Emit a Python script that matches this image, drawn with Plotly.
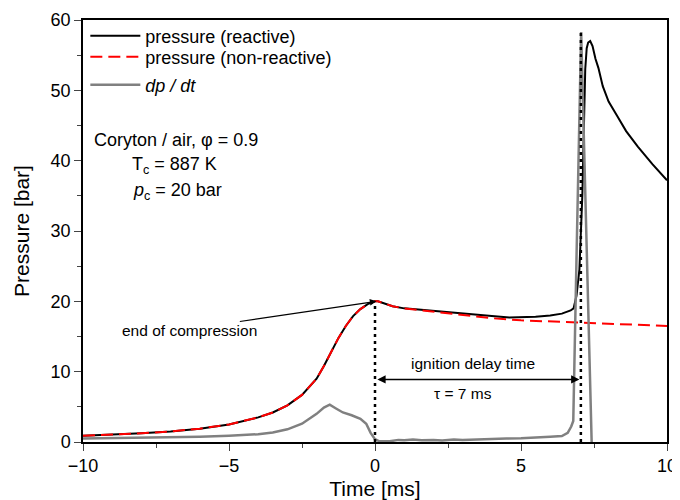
import plotly.graph_objs as go

# reactive pressure trace [ms, bar]
t_react = [-10, -9, -8, -7, -6, -5, -4.5, -4, -3.5, -3, -2.5, -2, -1.75, -1.5, -1.25, -1,
           -0.75, -0.5, -0.25, 0, 0.1, 0.25, 0.6, 1, 2, 3, 4, 4.6, 5.5, 6, 6.4, 6.7,
           6.8, 6.9, 7.0, 7.1, 7.15, 7.2, 7.25, 7.3, 7.37, 7.45, 7.55, 7.65, 7.8, 8.0, 8.3, 8.6,
           9.0, 9.5, 10]
p_react = [0.9, 1.05, 1.25, 1.5, 1.9, 2.5, 2.95, 3.5, 4.2, 5.2, 6.7, 9.0, 10.8, 12.8, 14.8, 16.5,
           17.9, 18.9, 19.6, 20.0, 20.0, 19.8, 19.3, 19.0, 18.6, 18.2, 17.9, 17.7, 17.8, 18.0, 18.25, 18.7,
           19.0, 20.8, 24.5, 35.0, 45.0, 53.0, 56.0, 56.8, 57.0, 56.3, 54.5, 53.2, 50.6, 48.4, 46.3, 44.2,
           42.0, 39.5, 37.2]

# non-reactive pressure trace
t_nonreact = [-10, -9, -8, -7, -6, -5, -4.5, -4, -3.5, -3, -2.5, -2, -1.75, -1.5, -1.25, -1,
              -0.75, -0.5, -0.25, 0, 0.1, 0.25, 0.6, 1, 2, 3, 4, 5, 6, 7, 8, 9, 10]
p_nonreact = [0.9, 1.05, 1.25, 1.5, 1.9, 2.5, 2.95, 3.5, 4.2, 5.2, 6.7, 9.0, 10.8, 12.8, 14.8, 16.5,
              17.9, 18.9, 19.6, 20.0, 20.0, 19.8, 19.3, 19.0, 18.55, 18.05, 17.6, 17.3, 17.15, 17.0, 16.85, 16.7, 16.5]

# pressure rise rate dp/dt
t_dpdt = [-10, -9, -8, -7, -6, -5, -4, -3.5, -3, -2.5, -2, -1.75, -1.55, -1.35, -1.1, -0.8,
          -0.5, -0.3, -0.15, 0, 0.15, 0.5, 0.8, 1.0, 1.3, 1.6, 2.0, 2.3, 2.7, 3.0, 3.5, 4.0,
          4.5, 5.0, 5.5, 6.0, 6.4, 6.6, 6.72, 6.79, 6.9, 7.0, 7.06, 7.15, 7.25, 7.35, 7.42]
p_dpdt = [0.5, 0.55, 0.6, 0.65, 0.75, 0.9, 1.1, 1.35, 1.8, 2.6, 4.0, 4.9, 5.3, 4.8, 4.2, 3.8,
          3.3, 2.6, 1.3, 0.4, 0.1, 0.1, 0.3, 0.25, 0.35, 0.25, 0.3, 0.2, 0.35, 0.3, 0.4, 0.45,
          0.5, 0.55, 0.6, 0.75, 0.85, 1.3, 2.2, 3.0, 26.0, 46.0, 58.3, 43.7, 27.5, 11.3, 0]

t_eoc = 0.0        # end of compression
p_eoc = 20.0
t_ign = 7.05       # ignition
p_ign_top = 58.3
p_delay = 8.9      # level of the delay-time arrow

FONT = "Liberation Sans, Arial, sans-serif"

fig = go.Figure()

# each legend entry gets its own legend box so the rows can be spaced like the original
fig.add_trace(go.Scatter(x=t_react, y=p_react, mode='lines', name='pressure (reactive)',
                         legend='legend', line=dict(color='black', width=2)))
fig.add_trace(go.Scatter(x=t_nonreact, y=p_nonreact, mode='lines', name='pressure (non-reactive)',
                         legend='legend2', line=dict(color='red', width=2, dash='12px,6px')))
fig.add_trace(go.Scatter(x=t_dpdt, y=p_dpdt, mode='lines', name='<i>dp / dt</i>',
                         legend='legend3', line=dict(color='rgb(128,128,128)', width=2.5)))

# dotted markers for end of compression and ignition
fig.add_trace(go.Scatter(x=[t_eoc, t_eoc], y=[0, p_eoc - 0.3], mode='lines', showlegend=False,
                         line=dict(color='black', width=2.5, dash='3px,4px')))
fig.add_trace(go.Scatter(x=[t_ign, t_ign], y=[0, p_ign_top], mode='lines', showlegend=False,
                         line=dict(color='black', width=2.5, dash='3px,4px')))

fig.add_annotation(x=t_eoc + 0.05, y=p_eoc, ax=-4.68, ay=17.1, xref='x', yref='y',
                   axref='x', ayref='y', text='', showarrow=True, arrowhead=2,
                   arrowsize=1.1, arrowwidth=1.2, arrowcolor='black')
fig.add_annotation(x=-6.35, y=15.9, xref='x', yref='y', text='end of compression',
                   showarrow=False, font=dict(size=15.5))

fig.add_annotation(x=t_ign - 0.05, y=p_delay, ax=t_eoc + 0.03, ay=p_delay, xref='x', yref='y',
                   axref='x', ayref='y', text='', showarrow=True, arrowhead=2,
                   arrowside='end+start', arrowsize=1.1, arrowwidth=1.5, arrowcolor='black')
fig.add_annotation(x=3.37, y=11.1, xref='x', yref='y', text='ignition delay time',
                   showarrow=False, font=dict(size=15.5))
fig.add_annotation(x=3.03, y=6.9, xref='x', yref='y', text='τ = 7 ms',
                   showarrow=False, font=dict(size=15.5))

fig.add_annotation(x=-6.8, y=42.9, xref='x', yref='y', text='Coryton / air, φ = 0.9',
                   showarrow=False, font=dict(size=18))
fig.add_annotation(x=-6.86, y=39.3, xref='x', yref='y', text='T<sub>c</sub> = 887 K',
                   showarrow=False, font=dict(size=18))
fig.add_annotation(x=-6.75, y=35.6, xref='x', yref='y', text='<i>p</i><sub>c</sub> = 20 bar',
                   showarrow=False, font=dict(size=18))

leg = dict(x=0.004, xanchor='left', yanchor='middle', bgcolor='rgba(0,0,0,0)',
           font=dict(size=18), itemwidth=50)

# page has an 8px body margin, so the figure is 8px smaller and margins shifted
fig.update_layout(
    width=672, height=492,
    margin=dict(l=75, r=13, t=12, b=58, autoexpand=False),
    paper_bgcolor='white', plot_bgcolor='white',
    font=dict(family=FONT, color='black'),
    legend=dict(leg, y=0.962),
    legend2=dict(leg, y=0.912),
    legend3=dict(leg, y=0.846),
    showlegend=True,
)
fig.update_xaxes(range=[-10, 10], dtick=5, tick0=0, ticks='outside', ticklen=7, tickwidth=1.3,
                 showline=True, linewidth=1.5, linecolor='black', mirror=True, showgrid=False,
                 zeroline=False, tickfont=dict(size=18), automargin=False,
                 minor=dict(dtick=2.5, ticks='outside', ticklen=4, tickwidth=1.3, showgrid=False),
                 title=dict(text='Time [ms]', font=dict(size=21), standoff=11))
fig.update_yaxes(range=[0, 60], dtick=10, tick0=0, ticks='outside', ticklen=7, tickwidth=1.3,
                 showline=True, linewidth=1.5, linecolor='black', mirror=True, showgrid=False,
                 zeroline=False, tickfont=dict(size=18), automargin=False,
                 minor=dict(dtick=5, ticks='outside', ticklen=4, tickwidth=1.3, showgrid=False),
                 title=dict(text='Pressure [bar]', font=dict(size=21), standoff=15))

fig.write_html("out.html")
